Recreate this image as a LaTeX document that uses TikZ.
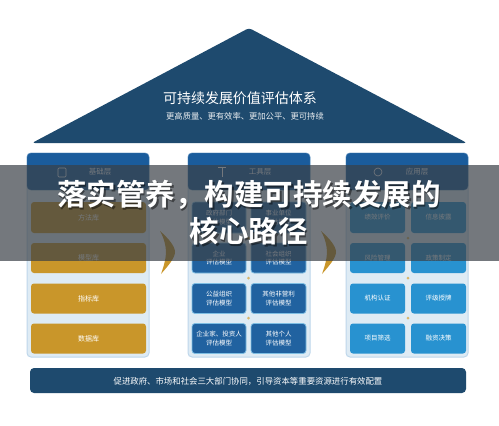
\documentclass[tikz,border=0pt]{standalone}
\usepackage{fontspec}
\newfontfamily\cjk{Noto Sans CJK SC}
\newfontfamily\cjkb{Noto Sans CJK SC Bold}
\definecolor{navy}{RGB}{30,74,110}
\definecolor{hdrblue}{RGB}{26,92,156}
\definecolor{midblue}{RGB}{33,98,160}
\definecolor{brblue}{RGB}{40,146,208}
\definecolor{gold}{RGB}{201,150,42}
\definecolor{paleb}{RGB}{222,235,244}
\definecolor{edgeb}{RGB}{190,215,235}
\definecolor{bandc}{RGB}{58,64,70}
\tikzset{
  colbox/.style={draw=edgeb,line width=1pt,fill=paleb,rounded corners=4pt},
  hdr/.style={fill=hdrblue,draw=hdrblue!80!white,rounded corners=4pt},
  goldbox/.style={fill=gold,rounded corners=3pt,text=white,font=\cjk\fontsize{7}{8}\selectfont,align=center},
  mbox/.style={fill=midblue,draw=brblue!60!white,line width=0.8pt,rounded corners=3pt,text=white,font=\cjk\fontsize{6.5}{8.5}\selectfont,align=center},
  rbox/.style={fill=brblue,rounded corners=3pt,text=white,font=\cjk\fontsize{6.5}{8}\selectfont,align=center},
  hdrtxt/.style={text=white,font=\cjk\fontsize{7.5}{9}\selectfont},
  arrowshape/.style={fill=gold,draw=none},
  dot/.style={circle,fill=gold!70!white,inner sep=0pt,minimum size=3pt}
}
\begin{document}
\begin{tikzpicture}[x=1pt,y=-1pt]
\useasboundingbox (0,0) rectangle (499,426);
\fill[white] (0,0) rectangle (499,426);
% roof
\coordinate (apex) at (249,28);
\coordinate (bl) at (32,143);
\coordinate (br) at (467,143);
\fill[navy,rounded corners=3pt] (bl) -- (apex) -- (br) -- cycle;
\node[text=white,font=\cjk\fontsize{14}{16}\selectfont] (title) at (240,98) {可持续发展价值评估体系};
\node[text=white!90!navy,font=\cjk\fontsize{8.3}{10}\selectfont] (sub) at (245,116) {更高质量、更有效率、更加公平、更可持续};
% columns
\foreach \n/\xa/\xb in {L/27/149, M/188/310, R/346/468}{
  \draw[colbox] (\xa,153) rectangle (\xb,357);
  \path[hdr] (\xa,153) rectangle (\xb,190);
}
% headers
\node[hdrtxt] (hL) at (100,172) {基础层};
\draw[white,line width=0.6pt,rounded corners=1pt] (58,168) rectangle (66,177);
\node[hdrtxt] (hM) at (260,172) {工具层};
\draw[white,line width=0.6pt] (218,167) -- (226,167) (222,167) -- (222,177);
\node[hdrtxt] (hR) at (417,172) {应用层};
\draw[white,line width=0.6pt] (378,172) circle (4pt);
% left gold
\node[goldbox,minimum width=115pt,minimum height=31pt] (L1) at (88.5,217.5) {方法库};
\node[goldbox,minimum width=115pt,minimum height=30pt] (L2) at (88.5,258) {模型库};
\node[goldbox,minimum width=115pt,minimum height=30pt] (L3) at (88.5,298.5) {指标库};
\node[goldbox,minimum width=115pt,minimum height=30pt] (L4) at (88.5,338.5) {数据库};
% middle
\node[mbox,minimum width=54pt,minimum height=31pt] (M1a) at (219,217.5) {政府部门\\评估模型};
\node[mbox,minimum width=55pt,minimum height=31pt] (M1b) at (278.5,217.5) {事业单位\\评估模型};
\node[mbox,minimum width=54pt,minimum height=30pt] (M2a) at (219,258) {企业\\评估模型};
\node[mbox,minimum width=55pt,minimum height=30pt] (M2b) at (278.5,258) {社会组织\\评估模型};
\node[mbox,minimum width=54pt,minimum height=30pt] (M3a) at (219,298.5) {公益组织\\评估模型};
\node[mbox,minimum width=55pt,minimum height=30pt] (M3b) at (278.5,298.5) {其他非营利\\评估模型};
\node[mbox,minimum width=54pt,minimum height=30pt,inner sep=0pt] (M4a) at (219,338.5) {企业家、投资人\\评估模型};
\node[mbox,minimum width=55pt,minimum height=30pt] (M4b) at (278.5,338.5) {其他个人\\评估模型};
% right
\node[rbox,minimum width=55pt,minimum height=31pt] (R1a) at (377.5,217.5) {绩效评价};
\node[rbox,minimum width=55pt,minimum height=31pt] (R1b) at (438.5,217.5) {信息披露};
\node[rbox,minimum width=55pt,minimum height=30pt] (R2a) at (377.5,258) {风险管理};
\node[rbox,minimum width=55pt,minimum height=30pt] (R2b) at (438.5,258) {政策制定};
\node[rbox,minimum width=55pt,minimum height=30pt] (R3a) at (377.5,298.5) {机构认证};
\node[rbox,minimum width=55pt,minimum height=30pt] (R3b) at (438.5,298.5) {评级授牌};
\node[rbox,minimum width=55pt,minimum height=30pt] (R4a) at (377.5,338.5) {项目筛选};
\node[rbox,minimum width=55pt,minimum height=30pt] (R4b) at (438.5,338.5) {融资决策};
% small dots
\foreach \y in {238,278,318}{
  \node[dot] at (248.5,\y) {};
  \node[dot] at (408,\y) {};
}
% arrows
\fill[arrowshape] (160,231) .. controls (168,238) and (175,246) .. (175,252) .. controls (175,258) and (168,266) .. (161,274) .. controls (164,266) and (166,258) .. (166,252) .. controls (166,246) and (164,238) .. cycle;
\fill[arrowshape] (321,231) .. controls (329,238) and (336,246) .. (336,252) .. controls (336,258) and (329,266) .. (322,274) .. controls (325,266) and (327,258) .. (327,252) .. controls (327,246) and (325,238) .. cycle;
% bottom bar
\fill[navy,rounded corners=4pt] (30,368) rectangle (466,393);
\node[text=white,font=\cjk\fontsize{8.4}{10}\selectfont] (foot) at (248,381) {促进政府、市场和社会三大部门协同，引导资本等重要资源进行有效配置};
% banner
\fill[bandc,opacity=0.7] (0,165) rectangle (499,261);
\node[text=black,opacity=0.45,font=\cjkb\fontsize{29.5}{37}\selectfont,align=center] at (250.5,214.5) {落实管养，构建可持续发展的\\核心路径};
\node[text=white,font=\cjkb\fontsize{29.5}{37}\selectfont,align=center] (banner) at (249,213) {落实管养，构建可持续发展的\\核心路径};
\end{tikzpicture}
\end{document}
